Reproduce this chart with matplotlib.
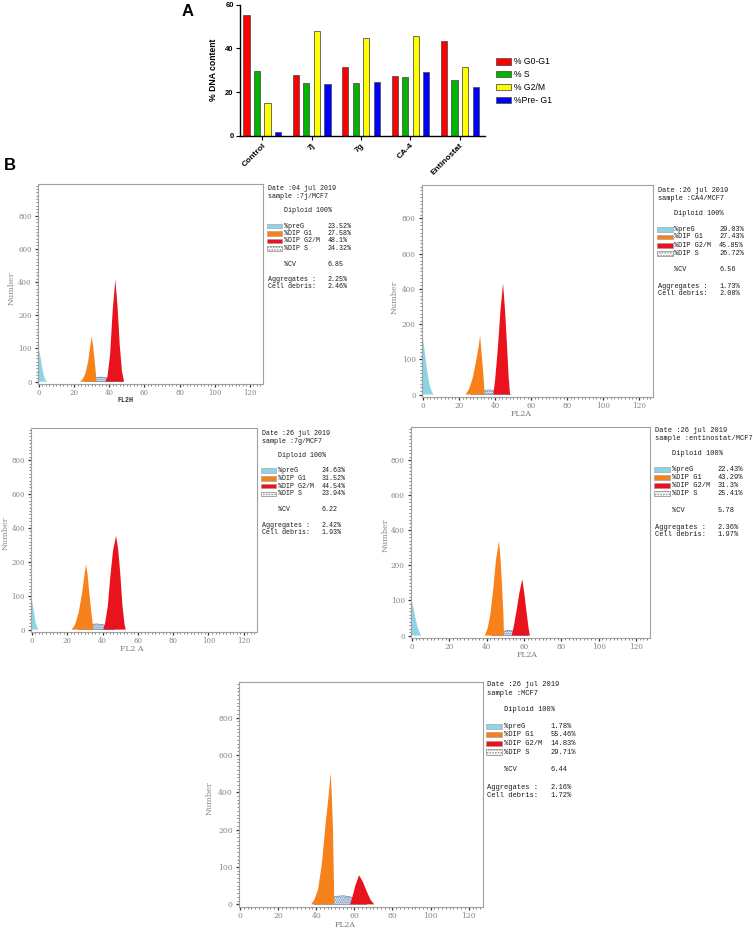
"""
Cell cycle analysis: bar summary (A) and flow cytometry histograms (B)
"""
import numpy as np
import matplotlib
matplotlib.use('Agg')
from matplotlib import pyplot as plt
from matplotlib.patches import Rectangle

W, H = 753, 930

# ---- panel A data ----
groups = ['Control', '7j', '7g', 'CA-4', 'Entinostat']
g0g1 = [55.46, 27.58, 31.52, 27.43, 43.29]
s_phase = [29.71, 24.32, 23.94, 26.72, 25.41]
g2m = [14.83, 48.1, 44.54, 45.85, 31.3]
preg1 = [1.78, 23.52, 24.63, 29.03, 22.43]
series_labels = ['% G0-G1', '% S', '% G2/M', '%Pre- G1']
series_colors = ['#ff0000', '#00b400', '#ffff00', '#0000ff']

# ---- panel B histogram outlines (channel, count) ----
j7_preg = [(-0.5, 0), (-0.5, 100), (0, 97), (1, 72), (2, 40), (3, 15), (4, 4), (5, 0)]
j7_g1 = [(23.5, 0), (25, 8), (26.5, 25), (28, 60), (29.3, 110), (30, 136),
         (30.8, 110), (31.8, 60), (32.5, 20), (32.8, 0)]
j7_g2m = [(37.8, 0), (39, 15), (40.5, 80), (42, 230), (43.5, 414), (44.7, 260),
          (46, 110), (47.3, 30), (48.5, 0)]
j7_s = [(26, 0), (29, 7), (32, 12), (34.5, 14), (37, 13), (40, 10), (44, 4), (48, 0)]

ca4_preg = [(-0.5, 0), (-0.5, 172), (0, 162), (1, 122), (2, 82), (3, 47), (4, 22), (5, 7), (6, 0)]
ca4_g1 = [(23.7, 0), (25.5, 15), (27.5, 45), (29.5, 95), (31, 140), (31.7, 167),
          (32.3, 130), (33.3, 70), (34, 20), (34.2, 0)]
ca4_g2m = [(39, 0), (40, 40), (41.5, 130), (43, 280), (44.4, 431), (45.5, 280),
           (46.5, 150), (47.5, 50), (48.3, 0)]
ca4_s = [(26.5, 0), (30, 7), (33.5, 12), (37, 13), (40.5, 11), (44, 6), (48.7, 0)]

g7_preg = [(-0.5, 0), (-0.5, 95), (0, 90), (1, 58), (2, 24), (3, 6), (3.8, 0)]
g7_g1 = [(22.5, 0), (24.5, 15), (26.5, 50), (28.5, 110), (30, 170), (30.7, 192),
         (31.5, 165), (32.5, 110), (33.8, 45), (34.5, 15), (35, 0)]
g7_g2m = [(40.4, 0), (41.5, 20), (43, 70), (44.5, 160), (46, 270), (47.7, 353),
          (48.8, 280), (50, 170), (51.3, 70), (52.5, 15), (53.2, 0)]
g7_s = [(26.4, 0), (30, 10), (33, 15), (36.5, 17), (40, 15), (43.5, 9), (46.8, 0)]

ent_preg = [(-0.5, 0), (-0.5, 100), (0, 96), (1, 74), (2, 47), (3, 24), (4, 9), (5, 0)]
ent_g1 = [(39, 0), (40.5, 20), (42, 60), (43.5, 130), (45, 230), (46.6, 339),
          (47.3, 260), (48.2, 150), (49, 60), (49.3, 0)]
ent_g2m = [(53.4, 0), (54.5, 25), (56, 70), (57.5, 120), (59.1, 161), (60.2, 120),
           (61.3, 70), (62.5, 20), (63.2, 0)]
ent_s = [(42.6, 0), (46, 7), (49, 12), (51.4, 15), (54, 13), (58, 7), (62.3, 0)]

mcf_preg = []
mcf_g1 = [(37.3, 0), (39, 12), (41, 40), (43, 110), (45, 240), (46.5, 380), (47.6, 503),
          (48.2, 380), (48.8, 200), (49.3, 60), (49.5, 0)]
mcf_g2m = [(57.8, 0), (59, 20), (60.5, 50), (62.5, 78), (64.5, 60), (66.5, 35),
           (68.5, 12), (70.5, 0)]
mcf_s = [(38.8, 0), (43, 9), (47, 17), (51, 22), (54.6, 23), (58, 20), (62, 13), (66.5, 0)]

# report text for each sample
dates = ['04 jul 2019', '26 jul 2019', '26 jul 2019', '26 jul 2019', '26 jul 2019']
samples = ['7j/MCF7', 'CA4/MCF7', '7g/MCF7', 'entinostat/MCF7', 'MCF7']
pct_preg = ['23.52%', '29.03%', '24.63%', '22.43%', '1.78%']
pct_g1 = ['27.58%', '27.43%', '31.52%', '43.29%', '55.46%']
pct_g2m = ['48.1%', '45.85%', '44.54%', '31.3%', '14.83%']
pct_s = ['24.32%', '26.72%', '23.94%', '25.41%', '29.71%']
cv = ['6.85', '6.56', '6.22', '5.78', '6.44']
aggregates = ['2.25%', '1.73%', '2.42%', '2.36%', '2.16%']
debris = ['2.46%', '2.08%', '1.93%', '1.97%', '1.72%']
xlabels = ['FL2H', 'FL2A', 'FL2 A', 'FL2A', 'FL2A']

hist_data = [
    (j7_preg, j7_g1, j7_g2m, j7_s),
    (ca4_preg, ca4_g1, ca4_g2m, ca4_s),
    (g7_preg, g7_g1, g7_g2m, g7_s),
    (ent_preg, ent_g1, ent_g2m, ent_s),
    (mcf_preg, mcf_g1, mcf_g2m, mcf_s),
]

# layout (pixels): axes box, text origin, text scale, font size, label positions
axes_box = [(38, 184, 263, 384), (422, 185, 653, 397), (31, 428, 257, 632),
            (411, 427, 650, 638), (239, 682, 483, 907)]
text_org = [(268, 189), (658, 190), (262, 433), (655, 430), (487, 684)]
text_scale = [1.0, 1.06, 1.02, 1.07, 1.14]
text_fs = [4.8, 4.95, 4.8, 5.05, 5.15]
xlab_pos = [(125, 400), (521, 414), (132, 649), (527, 655), (345, 925)]
ylab_pos = [(12, 288), (395, 297), (6, 533), (386, 535), (210, 798)]
tick_fs = [5, 5.2, 5, 5.2, 5.5]

C_PREG = '#8fd3e6'
C_G1 = '#f7821b'
C_G2M = '#e8131c'
C_S = '#4f74a8'

plt.rcParams['hatch.linewidth'] = 0.8

fig = plt.figure(figsize=(W / 100, H / 100), dpi=100)
fig.patch.set_facecolor('white')


def px_axes(l, t, r, b):
    return fig.add_axes([l / W, 1 - b / H, (r - l) / W, (b - t) / H])


def ftxt(x, y, s, **kw):
    fig.text(x / W, 1 - y / H, s, **kw)


# ---------------- panel A ----------------
ax = px_axes(240, 4.7, 485, 135.7)
x = np.arange(len(groups))
offsets = [-0.32, -0.107, 0.107, 0.32]
handles = []
for vals, off, col, lab in zip([g0g1, s_phase, g2m, preg1], offsets, series_colors, series_labels):
    b = ax.bar(x + off, vals, width=0.125, color=col, edgecolor='#555555', linewidth=0.6, label=lab)
    handles.append(b)
ax.set_xlim(-0.45, 4.51)
ax.set_ylim(0, 60)
ax.set_yticks([0, 20, 40, 60])
ax.set_xticks(x)
ax.set_xticklabels(groups, rotation=45, ha='right', rotation_mode='anchor',
                   fontsize=6, fontweight='bold', family='Liberation Sans')
for lab in ax.get_yticklabels():
    lab.set_fontsize(5.5)
    lab.set_fontweight('bold')
    lab.set_family('Liberation Sans')
ax.spines['top'].set_visible(False)
ax.spines['right'].set_visible(False)
for sp in ['left', 'bottom']:
    ax.spines[sp].set_linewidth(1.0)
ax.tick_params(length=3, width=0.8, pad=1.5)
ax.set_ylabel('% DNA content', fontsize=6.2, fontweight='bold', family='Liberation Sans', labelpad=5)
ax.legend(handles=handles, loc='upper left', bbox_to_anchor=(488 / W, 1 - 49.5 / H),
          bbox_transform=fig.transFigure, frameon=False,
          prop={'family': 'Liberation Sans', 'size': 6.2},
          handlelength=1.8, handleheight=0.8, handletextpad=0.3, labelspacing=0.45)

ftxt(188, 12, 'A', fontsize=12, fontweight='bold', family='Liberation Sans', ha='center', va='center')
ftxt(10, 166, 'B', fontsize=12, fontweight='bold', family='Liberation Sans', ha='center', va='center')


# ---------------- panel B ----------------
def fwd(v):
    v = np.asarray(v, dtype=float)
    return np.where(v <= 200, v / 100.0, 2 + (v - 200) / 200.0)


def inv(p):
    p = np.asarray(p, dtype=float)
    return np.where(p <= 2, p * 100.0, 200 + (p - 2) * 200.0)


line_off = [0, 8, 22, 37, 44.3, 52, 59.7, 75, 90.7, 98]

for i, (preg, g1, g2, sp) in enumerate(hist_data):
    ax = px_axes(*axes_box[i])
    ax.set_yscale('function', functions=(fwd, inv))
    ax.set_xlim(-0.5, 127.5)
    ax.set_ylim(-7, 990)

    if sp:
        xs, ys = zip(*sp)
        ax.fill(xs, ys, facecolor='#eef2f8', edgecolor=C_S, hatch='........', linewidth=0.4, zorder=1)
    for pts, col in [(preg, C_PREG), (g1, C_G1), (g2, C_G2M)]:
        if pts:
            xs, ys = zip(*pts)
            ax.fill(xs, ys, color=col, linewidth=0, zorder=2)

    ax.set_xticks(np.arange(0, 121, 20))
    ax.set_xticks(np.arange(0, 127, 2), minor=True)
    ax.set_yticks([0, 100, 200, 400, 600, 800])
    ax.set_yticks(inv(np.arange(0, 5.95, 0.1)), minor=True)
    ax.set_yticklabels(['0', '100', '200', '400', '600', '800'])
    ax.tick_params(which='major', length=2, width=0.9, color='#333333', labelcolor='#858585',
                   labelsize=tick_fs[i])
    ax.tick_params(axis='x', which='major', pad=1.5)
    ax.tick_params(axis='y', which='major', pad=2.5)
    ax.tick_params(which='minor', length=1.5, width=0.5, color='#555555')
    for lab in ax.get_xticklabels() + ax.get_yticklabels():
        lab.set_family('DejaVu Serif')
    for s in ax.spines.values():
        s.set_color('#a0a0a0')
        s.set_linewidth(0.8)

    ftxt(*ylab_pos[i], 'Number', rotation=90, fontsize=5.8, color='#8a8a8a',
         family='DejaVu Serif', ha='center', va='center')
    if i == 0:
        ftxt(*xlab_pos[i], xlabels[i], fontsize=4.8, color='#333333', family='Liberation Mono',
             fontweight='bold', ha='center', va='center')
    else:
        ftxt(*xlab_pos[i], xlabels[i], fontsize=5.6, color='#7a7a7a', family='DejaVu Serif',
             ha='center', va='center')

    # report block
    x0, y0 = text_org[i]
    sc = text_scale[i]
    fs = text_fs[i]
    cw = fs * 0.6 * 100 / 72.0
    yy = [y0 + o * sc for o in line_off]
    kw = dict(fontsize=fs, family='Liberation Mono', color='#1a1a1a', va='center', ha='left')
    vx = x0 + 14.8 * cw
    ftxt(x0, yy[0], 'Date :' + dates[i], **kw)
    ftxt(x0, yy[1], 'sample :' + samples[i], **kw)
    ftxt(x0 + 4 * cw, yy[2], 'Diploid 100%', **kw)
    rows = [('%preG', pct_preg[i], C_PREG), ('%DIP G1', pct_g1[i], C_G1),
            ('%DIP G2/M', pct_g2m[i], C_G2M), ('%DIP S', pct_s[i], None)]
    for k, (name, val, col) in enumerate(rows):
        y = yy[3 + k]
        sw_h = 4.6 * sc
        if col is None:
            rect = Rectangle(((x0 - 0.3 * cw) / W, 1 - (y + sw_h / 2) / H), 3.9 * cw / W, sw_h / H,
                             transform=fig.transFigure, facecolor='white', edgecolor='#8a8a8a',
                             linewidth=0.5, hatch='......')
        else:
            rect = Rectangle(((x0 - 0.3 * cw) / W, 1 - (y + sw_h / 2) / H), 3.9 * cw / W, sw_h / H,
                             transform=fig.transFigure, facecolor=col, edgecolor='#9a9a9a',
                             linewidth=0.4)
        fig.add_artist(rect)
        ftxt(x0 + 4 * cw, y, name, **kw)
        ftxt(vx, y, val, **kw)
    ftxt(x0 + 4 * cw, yy[7], '%CV', **kw)
    ftxt(vx, yy[7], cv[i], **kw)
    ftxt(x0, yy[8], 'Aggregates :', **kw)
    ftxt(vx, yy[8], aggregates[i], **kw)
    ftxt(x0, yy[9], 'Cell debris:', **kw)
    ftxt(vx, yy[9], debris[i], **kw)

fig.savefig('out.png', dpi=100, facecolor='white')
